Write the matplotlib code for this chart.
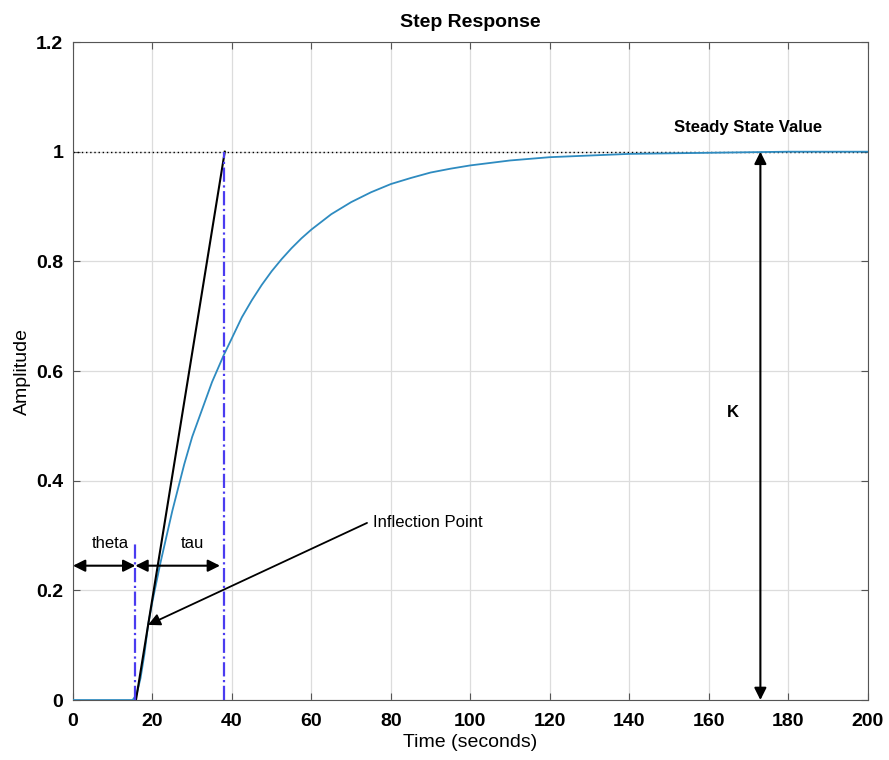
import matplotlib.pyplot as plt

plt.rcParams['font.family'] = ['Liberation Sans', 'DejaVu Sans']

# step response
t = [0, 15, 16, 17, 18, 18.9, 20, 22, 25, 28, 30, 33, 35, 38, 40, 42.5, 45, 47.5, 50,
     52.5, 55, 57.5, 60, 65, 70, 75, 80, 85, 90, 95, 100, 110, 120, 130, 140, 150,
     160, 180, 200]
y = [0, 0, 0.01, 0.04, 0.085, 0.137, 0.18, 0.25, 0.345, 0.43, 0.48, 0.54, 0.58,
     0.63, 0.66, 0.698, 0.729, 0.757, 0.782, 0.804, 0.824, 0.842, 0.858, 0.886,
     0.908, 0.926, 0.941, 0.952, 0.962, 0.969, 0.975, 0.984, 0.99, 0.993, 0.996,
     0.997, 0.998, 1.0, 1.0]

tangent_t = [15.85, 38.2]
tangent_y = [0, 1]

theta = 15.7
tau_end = 38
steady = 1.0

xticks = [0, 20, 40, 60, 80, 100, 120, 140, 160, 180, 200]
yticks = [0, 0.2, 0.4, 0.6, 0.8, 1.0, 1.2]
ylabels = ["0", "0.2", "0.4", "0.6", "0.8", "1", "1.2"]

fig = plt.figure(figsize=(8.89, 7.6), dpi=100)
ax = fig.add_axes([0.0821, 0.0789, 0.8939, 0.8658])

ax.plot(t, y, color="#2e8bc0", lw=1.3, zorder=3)
ax.plot([0, 200], [steady, steady], color="black", ls=(0, (1, 2)), lw=1.0, zorder=2)
ax.plot(tangent_t, tangent_y, color="black", lw=1.5, zorder=4)
ax.plot([theta, theta], [0, 0.29], color="#4a3cf0", ls="-.", lw=1.6, zorder=4)
ax.plot([tau_end, tau_end], [0, 1.0], color="#4a3cf0", ls="-.", lw=1.6, zorder=4)

arrow = dict(arrowstyle="<|-|>", color="black", lw=1.5, mutation_scale=18,
             shrinkA=0, shrinkB=0)
ax.annotate("", xy=(0, 0.245), xytext=(theta, 0.245), arrowprops=arrow)
ax.annotate("", xy=(theta, 0.245), xytext=(37, 0.245), arrowprops=arrow)
ax.annotate("", xy=(173, 0.0), xytext=(173, 1.0), arrowprops=arrow)
ax.annotate("", xy=(18.9, 0.137), xytext=(74, 0.323),
            arrowprops=dict(arrowstyle="-|>", color="black", lw=1.3,
                            mutation_scale=18, shrinkA=0, shrinkB=0))

ax.text(9.5, 0.285, "theta", ha="center", va="center", fontsize=12)
ax.text(30, 0.285, "tau", ha="center", va="center", fontsize=12)
ax.text(75.5, 0.323, "Inflection Point", ha="left", va="center", fontsize=12)
ax.text(166, 0.525, "K", ha="center", va="center", fontsize=12, fontweight="bold")
ax.text(170, 1.045, "Steady State Value", ha="center", va="center", fontsize=12,
        fontweight="bold")

ax.set_xlim(0, 200)
ax.set_ylim(0, 1.2)
ax.set_xticks(xticks)
ax.set_yticks(yticks)
ax.set_yticklabels(ylabels)
ax.tick_params(direction="in", top=True, right=True, labelsize=14, length=5,
               color="#555555")
ax.tick_params(axis="x", pad=9)
ax.tick_params(axis="y", pad=7)
for lab in ax.get_xticklabels() + ax.get_yticklabels():
    lab.set_fontweight("bold")
ax.grid(True, color="#dcdcdc", lw=0.9)
ax.set_axisbelow(True)
for s in ax.spines.values():
    s.set_color("#555555")

ax.set_xlabel("Time (seconds)", fontsize=14, labelpad=3)
ax.set_ylabel("Amplitude", fontsize=14, labelpad=4)
ax.set_title("Step Response", fontsize=14, fontweight="bold", pad=11)

fig.savefig("out.png", dpi=100)
